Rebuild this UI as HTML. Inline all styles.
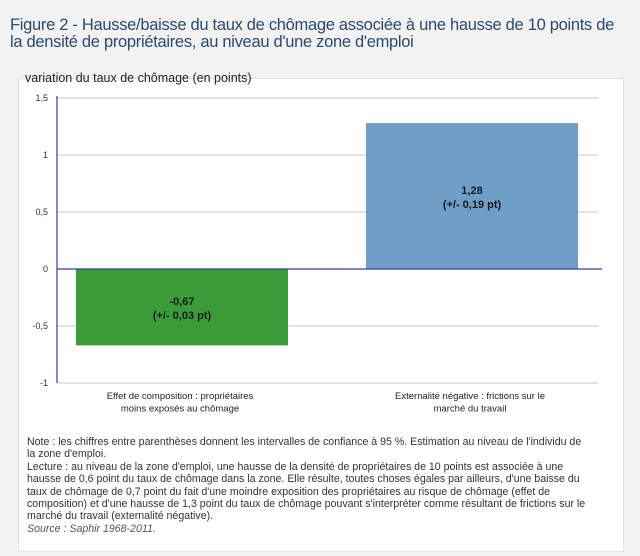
<!DOCTYPE html>
<html><head><meta charset="utf-8"><style>
body{margin:0;width:640px;height:556px;background:#f2f2f2;font-family:"Liberation Sans",sans-serif;position:relative;overflow:hidden}
#title{position:absolute;left:10px;top:17px;font-size:16.5px;line-height:17px;color:#2a4a6e;letter-spacing:-0.3px}
#panel{position:absolute;left:18px;top:78px;width:604px;height:472px;background:#fff;border:1px solid #e2e2e2}
#notes{position:absolute;left:27px;top:436px;font-size:10.6px;line-height:12.4px;color:#333;width:560px}
</style></head><body>
<div id="title">Figure 2 - Hausse/baisse du taux de chômage associée à une hausse de 10 points de<br>la densité de propriétaires, au niveau d'une zone d'emploi</div>
<div id="panel"></div>
<svg id="chart" width="640" height="556" style="position:absolute;left:0;top:0"></svg>
<div id="notes">Note : les chiffres entre parenthèses donnent les intervalles de confiance à 95 %. Estimation au niveau de l'individu de la zone d'emploi.<br>Lecture : au niveau de la zone d'emploi, une hausse de la densité de propriétaires de 10 points est associée à une hausse de 0,6 point du taux de chômage dans la zone. Elle résulte, toutes choses égales par ailleurs, d'une baisse du taux de chômage de 0,7 point du fait d'une moindre exposition des propriétaires au risque de chômage (effet de composition) et d'une hausse de 1,3 point du taux de chômage pouvant s'interpréter comme résultant de frictions sur le marché du travail (externalité négative).<br><i style="color:#555">Source : Saphir 1968-2011.</i></div>
<script>
const categories=[["Effet de composition : propriétaires","moins exposés au chômage"],["Externalité négative : frictions sur le","marché du travail"]];
const values=[-0.67,1.28];
const ciLabels=["(+/- 0,03 pt)","(+/- 0,19 pt)"];
const valueLabels=["-0,67","1,28"];
const ticks=[1.5,1,0.5,0,-0.5,-1];
const tickLabels=["1,5","1","0,5","0","-0,5","-1"];
const colors=["#339933","#6a9bc6"];
const NS="http://www.w3.org/2000/svg",svg=document.getElementById('chart');
const x0=57,x1=600,yMin=-1,yMax=1.5,yTop=98,yBot=383;
const y=v=>yBot-(v-yMin)/(yMax-yMin)*(yBot-yTop);
const xc=i=>x0+125+i*290;
const bw=212;
function mk(t,a,txt){const e=document.createElementNS(NS,t);for(const k in a)e.setAttribute(k,a[k]);if(txt!=null)e.textContent=txt;svg.appendChild(e);return e;}
const yt=mk('text',{x:25,y:82,'font-size':12.5,fill:'#222'},'variation du taux de chômage (en points)');


ticks.forEach((t,i)=>{
  if(t!==0){const g=mk('line',{x1:x0,x2:x1-2,y1:y(t),y2:y(t),stroke:'rgba(0,0,0,0.22)','stroke-width':1});
  
  }
  const l=mk('text',{x:48,y:y(t)+3,'font-size':9,'text-anchor':'end',fill:'#333'},tickLabels[i]);
  
  
});
values.forEach((v,i)=>{
  const bx=xc(i)-bw/2;
  const r=mk('rect',{x:bx,y:Math.min(y(v),y(0)),width:bw,height:Math.abs(y(v)-y(0)),fill:colors[i],'fill-opacity':0.97});
  
  
  const cy=(y(v)+y(0))/2;
  const t1=mk('text',{x:xc(i),y:cy-2,'font-size':11,'font-weight':'bold','text-anchor':'middle',fill:'#1a1a1a'},valueLabels[i]);
  
  
  const t2=mk('text',{x:xc(i),y:cy+12,'font-size':11,'font-weight':'bold','text-anchor':'middle',fill:'#1a1a1a'},ciLabels[i]);
  
  
  categories[i].forEach((line,j)=>{
    const c=mk('text',{x:xc(i)-2,y:399+j*12.5,'font-size':9.5,'text-anchor':'middle',fill:'#222'},line);
    
    
  });
});
const z=mk('line',{x1:x0,x2:x1+2,y1:y(0),y2:y(0),stroke:'#3b3b9a','stroke-width':1.2});


const ax=mk('line',{x1:x0,x2:x0,y1:yTop-2,y2:yBot,stroke:'#3b3b9a','stroke-width':1.2});


</script>
</body></html>
